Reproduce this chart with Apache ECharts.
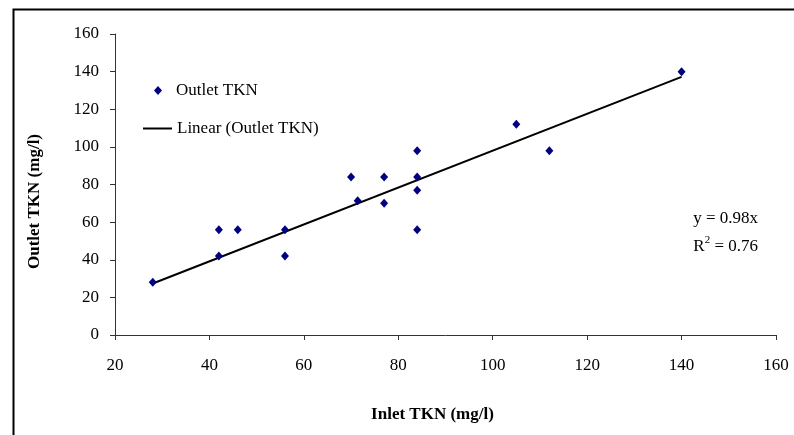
<!DOCTYPE html>
<html style="height: 100%">
<head>
<meta charset="utf-8">
</head>
<body style="height: 100%; margin: 0; background: #fff">
<div id="container" style="width: 794px; height: 435px"></div>
<script type="text/javascript" src="https://cdn.jsdelivr.net/npm/echarts@6/dist/echarts.min.js"></script>
<script type="text/javascript">
// inlet / outlet TKN pairs (mg/l)
var inletTKN  = [28, 42, 42, 46, 56, 56, 70, 71.4, 77, 77, 84, 84, 84, 84, 105, 112, 140];
var outletTKN = [28, 56, 42, 56, 56, 42, 84, 71.4, 84, 70, 98, 84, 77, 56, 112, 98, 140];

// fitted line ends (y = 0.98x)
var trendX = [28, 140];
var trendY = [27.4, 137.2];

var xTicks = { min: 20, max: 160, step: 20 };
var yTicks = { min: 0, max: 160, step: 20 };

var font = 'Liberation Serif, Times New Roman, serif';
var fs = 17;

var dom = document.getElementById('container');
var myChart = echarts.init(dom);

var scatterData = inletTKN.map(function (x, i) {
    return [x, outletTKN[i]];
});
var trendData = trendX.map(function (x, i) {
    return [x, trendY[i]];
});

var option = {
    backgroundColor: '#fff',
    animation: false,
    textStyle: { fontFamily: font },
    grid: {
        left: 115,
        right: 18,
        top: 34,
        bottom: 100
    },
    legend: [{
        data: ['Outlet TKN'],
        left: 154,
        top: 82,
        padding: 0,
        icon: 'diamond',
        itemWidth: 8,
        itemHeight: 9,
        textStyle: {
            fontFamily: font,
            fontSize: fs,
            color: '#000',
            padding: [0, 0, 0, 9]
        }
    }, {
        data: ['Linear (Outlet TKN)'],
        left: 143,
        top: 120,
        padding: 0,
        icon: 'rect',
        itemWidth: 29,
        itemHeight: 2,
        textStyle: {
            fontFamily: font,
            fontSize: fs,
            color: '#000'
        }
    }],
    xAxis: {
        type: 'value',
        min: xTicks.min,
        max: xTicks.max,
        interval: xTicks.step,
        name: 'Inlet TKN (mg/l)',
        nameLocation: 'middle',
        nameGap: 71,
        nameTextStyle: {
            fontFamily: font,
            fontSize: fs,
            fontWeight: 'bold',
            color: '#000',
            padding: [0, 26, 0, 0]
        },
        axisLine: { lineStyle: { color: '#333', width: 1 } },
        axisTick: { length: 5, lineStyle: { color: '#333' } },
        axisLabel: {
            margin: 22,
            fontFamily: font,
            fontSize: fs,
            color: '#000'
        },
        splitLine: { show: false }
    },
    yAxis: {
        type: 'value',
        min: yTicks.min,
        max: yTicks.max,
        interval: yTicks.step,
        name: 'Outlet TKN (mg/l)',
        nameLocation: 'middle',
        nameGap: 72,
        nameRotate: 90,
        nameTextStyle: {
            fontFamily: font,
            fontSize: fs,
            fontWeight: 'bold',
            color: '#000',
            padding: [0, 34, 0, 0]
        },
        axisLine: { show: true, lineStyle: { color: '#333', width: 1 } },
        axisTick: { show: true, length: 5, lineStyle: { color: '#333' } },
        axisLabel: {
            margin: 16,
            fontFamily: font,
            fontSize: fs,
            color: '#000'
        },
        splitLine: { show: false }
    },
    graphic: [{
        type: 'rect',
        left: 11,
        top: 7,
        shape: { width: 800, height: 440 },
        style: { fill: 'none', stroke: '#000', lineWidth: 2 },
        silent: true,
        z: -1
    }, {
        type: 'text',
        right: 36,
        top: 210,
        style: {
            text: 'y = 0.98x',
            font: fs + 'px ' + font,
            fill: '#000',
            textAlign: 'right'
        }
    }, {
        type: 'text',
        right: 36,
        top: 235,
        style: {
            text: '{r|R}{s|2}{r| = 0.76}',
            fill: '#000',
            rich: {
                r: { fontFamily: font, fontSize: fs, color: '#000', verticalAlign: 'bottom' },
                s: { fontFamily: font, fontSize: 11, color: '#000', verticalAlign: 'top', padding: [0, 0, 9, 0] }
            }
        }
    }],
    series: [{
        name: 'Outlet TKN',
        type: 'scatter',
        symbol: 'diamond',
        symbolSize: [8, 9],
        itemStyle: { color: '#000080', opacity: 1 },
        data: scatterData,
        z: 3
    }, {
        name: 'Linear (Outlet TKN)',
        type: 'line',
        symbol: 'none',
        lineStyle: { color: '#000', width: 2 },
        itemStyle: { color: '#000' },
        data: trendData,
        z: 2
    }]
};

myChart.setOption(option);
</script>
</body>
</html>
